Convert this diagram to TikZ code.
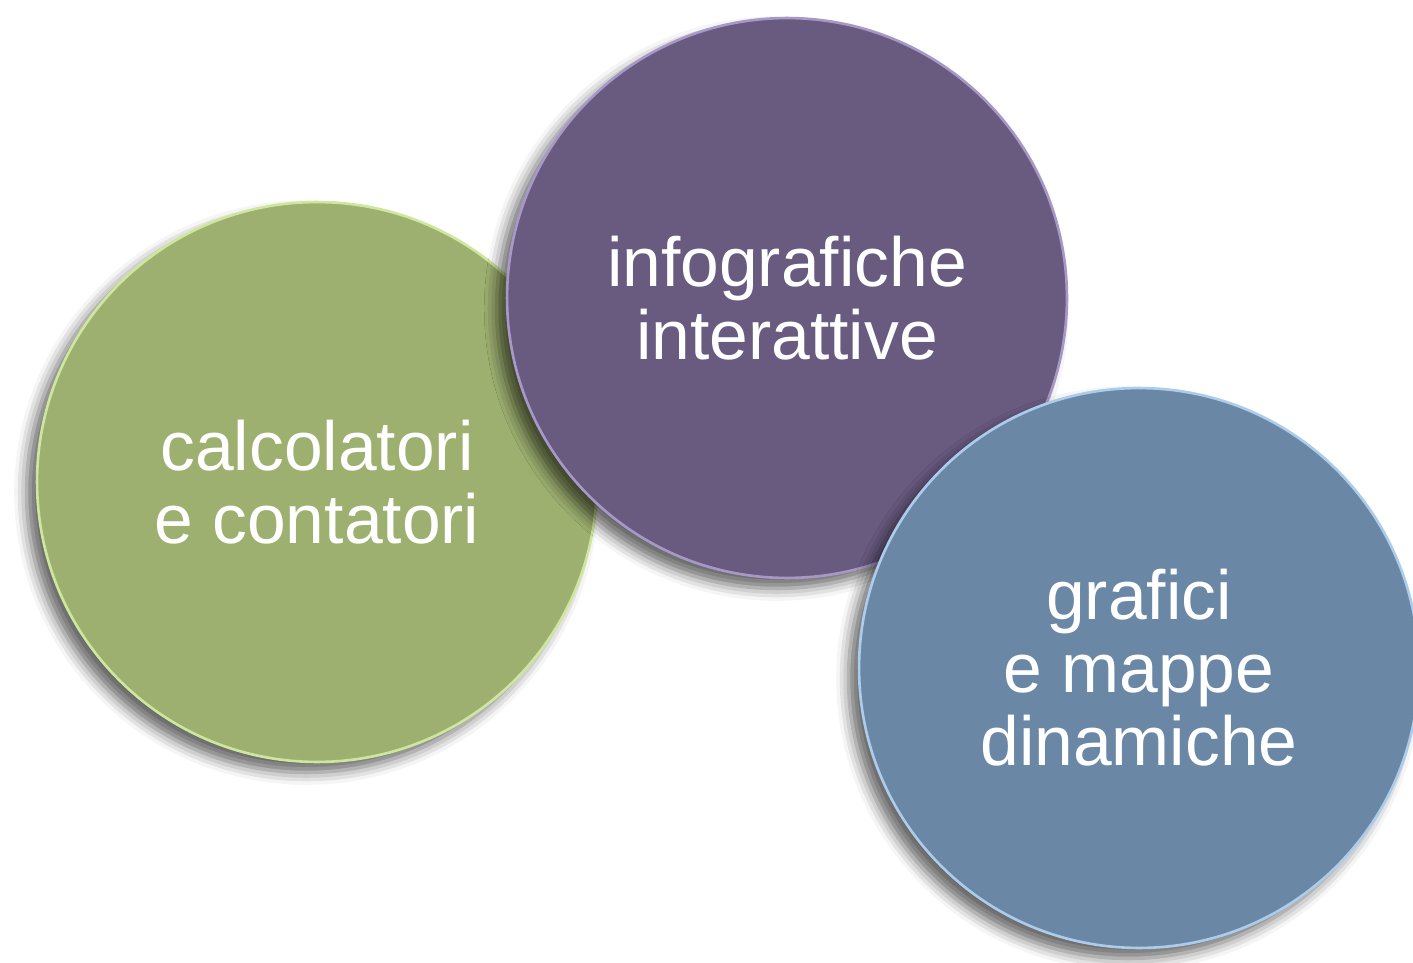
\documentclass[tikz,border=0pt]{standalone}
\usepackage{fontspec}
\setmainfont{Liberation Sans}
\usetikzlibrary{shadows.blur}
\definecolor{calcgreen}{RGB}{157,176,112}
\definecolor{calcrim}{RGB}{206,230,158}
\definecolor{infopurple}{RGB}{105,90,128}
\definecolor{inforim}{RGB}{168,152,200}
\definecolor{grafblue}{RGB}{106,136,166}
\definecolor{grafrim}{RGB}{172,204,236}

\begin{document}
\begin{tikzpicture}[
	x=0.02cm, y=-0.02cm,
	ball/.style={circle, minimum size=11.2cm, inner sep=0pt, align=center,
		text=white, line width=1.5pt,
		font=\fontsize{39.6}{41.5}\selectfont,
		blur shadow={shadow xshift=-6pt, shadow yshift=-6pt,
			shadow blur radius=7pt, shadow opacity=60}}]
\useasboundingbox (0,0) rectangle (1413,963);
% the three balls, back to front
\node[ball, fill=calcgreen, draw=calcrim] (calc) at (317,482) {calcolatori\\e contatori};
\node[ball, fill=infopurple, draw=inforim] (info) at (787,298) {infografiche\\interattive};
\node[ball, fill=grafblue, draw=grafrim] (graf) at (1139,668) {grafici\\e mappe\\dinamiche};
\end{tikzpicture}
\end{document}
